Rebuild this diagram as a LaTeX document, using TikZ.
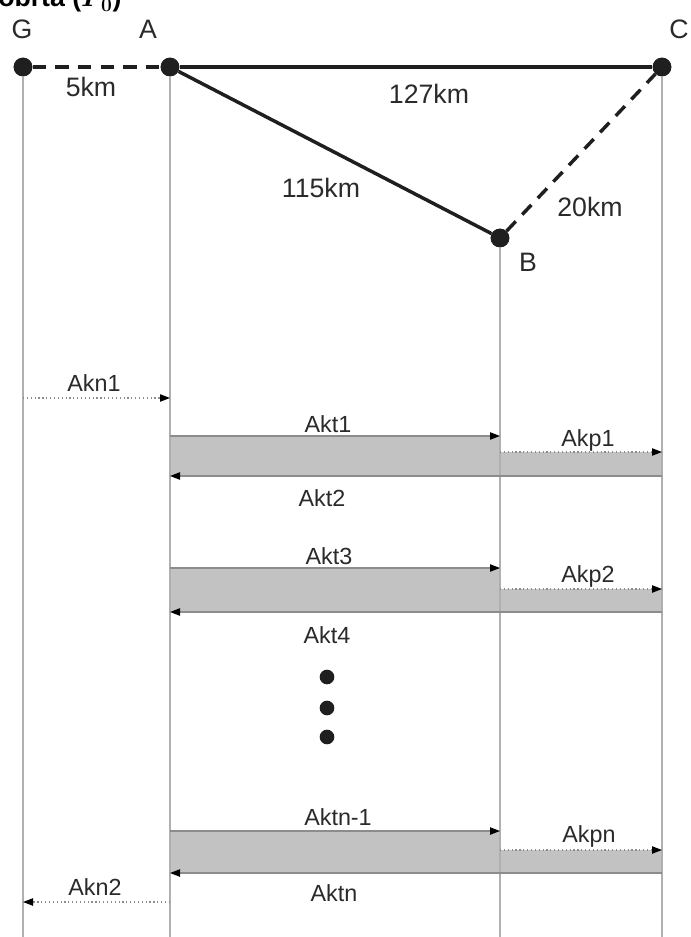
\documentclass[tikz,border=0pt]{standalone}
\usepackage{fontspec}
\usepackage{amsmath}
\setmainfont{Liberation Sans}
\usetikzlibrary{arrows.meta}
\definecolor{txt}{HTML}{2A2A2A}
\definecolor{vline}{HTML}{B0B0B0}
\definecolor{band}{HTML}{C2C2C2}
\definecolor{aline}{HTML}{8C8C8C}
\tikzset{
  station/.style={circle,fill=black!88,inner sep=0pt,minimum size=14pt},
  dotmark/.style={circle,fill=black!88,inner sep=0pt,minimum size=11pt},
  lbl/.style={text=txt,font=\fontsize{17.5}{20}\selectfont,inner sep=0pt},
  kmlbl/.style={text=txt,font=\fontsize{20}{23}\selectfont,inner sep=0pt},
  biglbl/.style={text=txt,font=\fontsize{20}{23}\selectfont,inner sep=0pt},
  tline/.style={color=vline,line width=1.6pt},
  route/.style={black!88,line width=2.6pt},
  routedash/.style={black!88,line width=2.6pt,dash pattern=on 10pt off 7pt},
  msg/.style={aline,line width=0.9pt,-{Triangle[length=7.5pt,width=5.5pt,black]}},
  dmsg/.style={aline,line width=0.9pt,dotted,-{Triangle[length=7.5pt,width=5.5pt,black]}},
}
\begin{document}
\begin{tikzpicture}[x=0.75pt,y=-0.75pt]
\useasboundingbox (0,0) rectangle (691,937);
% cut-off title
\node[anchor=base west,inner sep=0pt,font=\fontsize{20}{23}\selectfont\bfseries] (title) at (-2,7) {obrta ($\boldsymbol{P_0}$)};
% stations
\node[station] (G) at (23,67) {};
\node[station] (A) at (170,67) {};
\node[station] (C) at (662,67) {};
\node[station] (B) at (500,238) {};
\node[biglbl] (Gl) at (22,29) {G};
\node[biglbl] (Al) at (148,29) {A};
\node[biglbl] (Cl) at (679,29) {C};
\node[biglbl] (Bl) at (528,262) {B};
% bottom ends of time lines
\coordinate (Gb) at (23,937);
\coordinate (Ab) at (170,937);
\coordinate (Bb) at (500,937);
\coordinate (Cb) at (662,937);
% bands (drawn first)
\foreach \t/\p/\b/\n in {436/452/476/1, 568/589/612/2, 831/850/873/3}{
  \coordinate (AT\n) at (170,\t);
  \coordinate (BT\n) at (500,\t);
  \coordinate (BP\n) at (500,\p);
  \coordinate (CP\n) at (662,\p);
  \coordinate (AB\n) at (170,\b);
  \coordinate (BB\n) at (500,\b);
  \coordinate (CB\n) at (662,\b);
  \fill[band] (AT\n) rectangle (BB\n);
  \fill[band] (BP\n) rectangle (CB\n);
}
% time lines
\draw[tline] (G) -- (Gb);
\draw[tline] (A) -- (Ab);
\draw[tline] (B) -- (Bb);
\draw[tline] (C) -- (Cb);
% routes
\draw[routedash] (G) -- (A);
\draw[route] (A) -- (C);
\draw[route] (A) -- (B);
\draw[routedash] (B) -- (C);
\node[station] at (G) {};
\node[station] at (A) {};
\node[station] at (C) {};
\node[station] at (B) {};
\node[kmlbl] (d1) at (91,87) {5km};
\node[kmlbl] (d2) at (429,94) {127km};
\node[kmlbl] (d3) at (321,188) {115km};
\node[kmlbl] (d4) at (590,207) {20km};
% messages
\coordinate (N1s) at (23,398);
\coordinate (N1e) at (170,398);
\draw[dmsg] (N1s) -- (N1e);
\node[lbl] (akn1) at (94,383) {Akn1};
\foreach \n in {1,2,3}{
  \draw[msg] (AT\n) -- (BT\n);
  \draw[dmsg] (BP\n) -- (CP\n);
  \draw[msg] (CB\n) -- (AB\n);
}
\node[lbl] (akt1) at (328,424) {Akt1};
\node[lbl] (akp1) at (588,440) {Akp1};
\node[lbl] (akt2) at (322,498) {Akt2};
\node[lbl] (akt3) at (329,556) {Akt3};
\node[lbl] (akp2) at (588,576) {Akp2};
\node[lbl] (akt4) at (327,635) {Akt4};
\node[dotmark] (v1) at (327,677) {};
\node[dotmark] (v2) at (327,708) {};
\node[dotmark] (v3) at (327,737) {};
\node[lbl] (aktn1) at (338,817) {Aktn-1};
\node[lbl] (akpn) at (589,836) {Akpn};
\node[lbl] (aktn) at (334,893) {Aktn};
\coordinate (N2s) at (170,902);
\coordinate (N2e) at (23,902);
\draw[dmsg] (N2s) -- (N2e);
\node[lbl] (akn2) at (95,887) {Akn2};
\end{tikzpicture}
\end{document}
